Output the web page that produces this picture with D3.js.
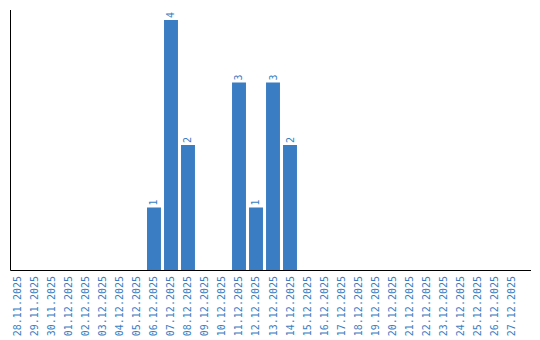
<!DOCTYPE html>
<html>
<head>
<meta charset="utf-8">
<script src="https://cdn.jsdelivr.net/npm/d3@7"></script>
<style>
  body { margin: 0; background: #fff; }
  text { font-family: "DejaVu Sans Mono", monospace; font-size: 10px; fill: #3a7dc2; }
</style>
</head>
<body>
<svg id="chart" width="540" height="340"></svg>
<script>
// dates shown on the x axis
const dates = [
    "28.11.2025", "29.11.2025", "30.11.2025", "01.12.2025", "02.12.2025",
    "03.12.2025", "04.12.2025", "05.12.2025", "06.12.2025", "07.12.2025",
    "08.12.2025", "09.12.2025", "10.12.2025", "11.12.2025", "12.12.2025",
    "13.12.2025", "14.12.2025", "15.12.2025", "16.12.2025", "17.12.2025",
    "18.12.2025", "19.12.2025", "20.12.2025", "21.12.2025", "22.12.2025",
    "23.12.2025", "24.12.2025", "25.12.2025", "26.12.2025", "27.12.2025"
];
const counts = [
    0, 0, 0, 0, 0, 0, 0, 0, 1, 4,
    2, 0, 0, 3, 1, 3, 2, 0, 0, 0,
    0, 0, 0, 0, 0, 0, 0, 0, 0, 0
];

const barColor = '#3a7dc2';
const svg = d3.select('#chart');

const x = d3.scaleBand()
    .domain(dates)
    .range([11, 518])
    .paddingInner(0.18)
    .paddingOuter(0);

const y = d3.scaleLinear()
    .domain([0, d3.max(counts) * 1.04])
    .range([270, 10]);

const data = dates.map((d, i) => ({date: d, value: counts[i]}));

// bars
svg.append('g').selectAll('rect')
    .data(data.filter(d => d.value > 0))
    .enter().append('rect')
    .attr('x', d => x(d.date))
    .attr('y', d => y(d.value))
    .attr('width', x.bandwidth())
    .attr('height', d => y(0) - y(d.value))
    .attr('fill', barColor);

// value labels, rotated above each bar
svg.append('g').selectAll('text')
    .data(data.filter(d => d.value > 0))
    .enter().append('text')
    .attr('transform', d => 'translate(' + (x(d.date) + x.bandwidth() / 2) + ',' + (y(d.value) - 2) + ') rotate(-90)')
    .attr('dy', '0.35em')
    .attr('text-anchor', 'start')
    .text(d => d.value);

// axes
svg.append('path')
    .attr('d', 'M10.5,' + y.range()[1] + 'V' + (y(0) + 0.5) + 'H531')
    .attr('fill', 'none')
    .attr('stroke', '#000');

// date labels
svg.append('g').selectAll('text')
    .data(dates)
    .enter().append('text')
    .attr('transform', d => 'translate(' + (x(d) + x.bandwidth() / 2) + ',276) rotate(-90)')
    .attr('dy', '0.35em')
    .attr('text-anchor', 'end')
    .text(d => d);
</script>
</body>
</html>
